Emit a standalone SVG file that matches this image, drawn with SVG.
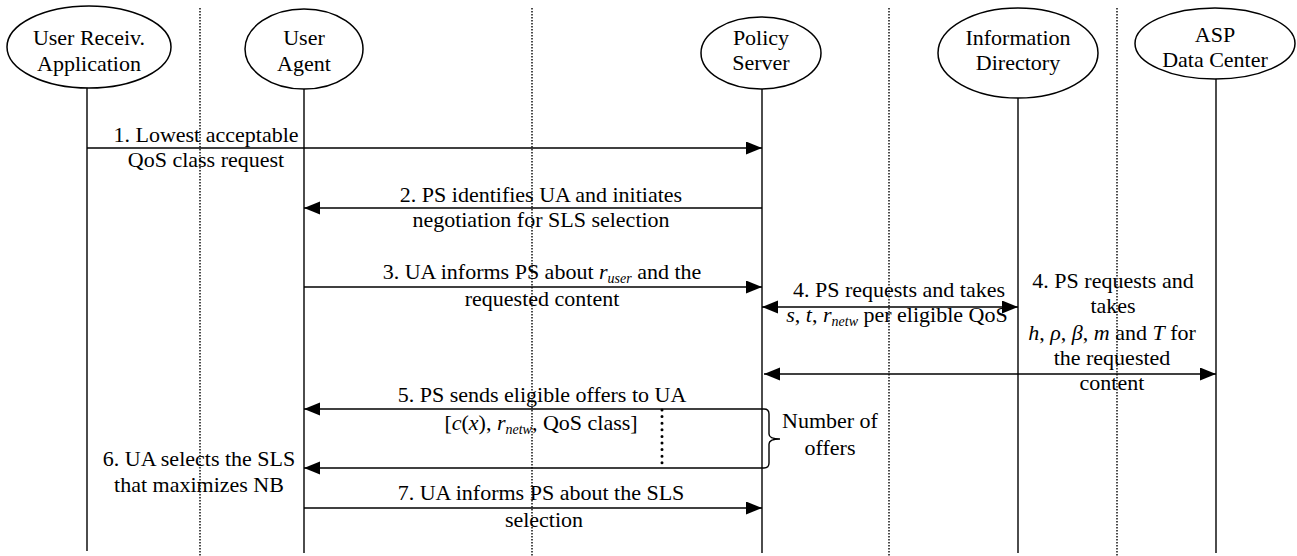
<svg xmlns="http://www.w3.org/2000/svg" width="1297" height="556" viewBox="0 0 1297 556">
<style>
text{font-family:'Liberation Serif','Times New Roman','DejaVu Serif',serif;font-size:22px;fill:#000;text-anchor:middle}
.it{font-style:italic}
.sub{font-style:italic;font-size:14px}
.node ellipse{fill:#fff;stroke:#000;stroke-width:1.5}
.life{stroke:#000;stroke-width:1.4;fill:none}
.dot{stroke:#000;stroke-width:1.4;stroke-dasharray:1.5 1.5;fill:none}
.msg{stroke:#000;stroke-width:1.4;fill:none}
</style>
<defs>
<marker id="ah" markerUnits="userSpaceOnUse" markerWidth="17" markerHeight="14" refX="16" refY="6.5" orient="auto-start-reverse">
<path d="M0,0 L16,6.5 L0,13 z" fill="#000"/>
</marker>
</defs>
<rect width="1297" height="556" fill="#fff"/>
<g id="separators">
<line class="dot" x1="200" y1="8" x2="200" y2="556"/>
<line class="dot" x1="532" y1="8" x2="532" y2="556"/>
<line class="dot" x1="889" y1="8" x2="889" y2="556"/>
<line class="dot" x1="1117" y1="8" x2="1117" y2="556"/>
</g>
<g id="lifelines">
<line class="life" x1="87" y1="88" x2="87" y2="551"/>
<line class="life" x1="304" y1="89" x2="304" y2="553"/>
<line class="life" x1="762" y1="89" x2="762" y2="553"/>
<line class="life" x1="1018" y1="98" x2="1018" y2="553"/>
<line class="life" x1="1216" y1="78" x2="1216" y2="553"/>
</g>
<g font-family="'Liberation Serif','Times New Roman','DejaVu Serif',serif">
<g id="node-ura" class="node">
<ellipse cx="89" cy="47" rx="82" ry="41"/>
<text x="89" y="45">User Receiv.</text>
<text x="89" y="71">Application</text>
</g>
<g id="node-ua" class="node">
<ellipse cx="304" cy="49" rx="59" ry="40"/>
<text x="304" y="45">User</text>
<text x="304" y="71">Agent</text>
</g>
<g id="node-ps" class="node">
<ellipse cx="761" cy="53" rx="60" ry="36"/>
<text x="761" y="45">Policy</text>
<text x="761" y="70">Server</text>
</g>
<g id="node-id" class="node">
<ellipse cx="1018" cy="53" rx="80" ry="45"/>
<text x="1018" y="45">Information</text>
<text x="1018" y="70">Directory</text>
</g>
<g id="node-asp" class="node">
<ellipse cx="1215" cy="43.5" rx="80" ry="35.5"/>
<text x="1215" y="42">ASP</text>
<text x="1215" y="67">Data Center</text>
</g>
</g>
<g id="connectors">
<line class="msg" x1="87" y1="148" x2="762" y2="148" marker-end="url(#ah)"/>
<line class="msg" x1="762" y1="208" x2="304" y2="208" marker-end="url(#ah)"/>
<line class="msg" x1="304" y1="287" x2="762" y2="287" marker-end="url(#ah)"/>
<line class="msg" x1="762" y1="307" x2="1018" y2="307" marker-start="url(#ah)" marker-end="url(#ah)"/>
<line class="msg" x1="764" y1="374" x2="1216" y2="374" marker-start="url(#ah)" marker-end="url(#ah)"/>
<line class="msg" x1="762" y1="409" x2="304" y2="409" marker-end="url(#ah)"/>
<line class="msg" x1="762" y1="468" x2="304" y2="468" marker-end="url(#ah)"/>
<line class="msg" x1="304" y1="508" x2="762" y2="508" marker-end="url(#ah)"/>
<path class="msg" d="M762,409 L764,409 Q769,409 769,414 L769,434 Q769,439 780,439 Q769,439 769,444 L769,463 Q769,468 764,468 L762,468"/>
<line x1="662" y1="410" x2="662" y2="468" stroke="#000" stroke-width="3" stroke-linecap="round" stroke-dasharray="0 6.6"/>
</g>
<g id="labels" font-family="'Liberation Serif','Times New Roman','DejaVu Serif',serif">
<text x="206" y="142">1. Lowest acceptable</text>
<text x="206" y="167">QoS class request</text>
<text x="541" y="202">2. PS identifies UA and initiates</text>
<text x="541" y="227">negotiation for SLS selection</text>
<text x="542" y="279">3. UA informs PS about <tspan class="it">r</tspan><tspan class="sub" dy="4">user</tspan><tspan dy="-4">  and the</tspan></text>
<text x="542" y="306">requested content</text>
<text x="899" y="297">4. PS requests and takes</text>
<text x="897" y="322"><tspan class="it">s</tspan>, <tspan class="it">t</tspan>, <tspan class="it">r</tspan><tspan class="sub" dy="4">netw</tspan><tspan dy="-4"> per eligible QoS</tspan></text>
<text x="1113" y="288">4. PS requests and</text>
<text x="1113" y="313">takes</text>
<text x="1112" y="340"><tspan class="it">h</tspan>, <tspan class="it">ρ</tspan>, <tspan class="it">β</tspan>, <tspan class="it">m</tspan> and <tspan class="it">T</tspan> for</text>
<text x="1112" y="365">the requested</text>
<text x="1112" y="390">content</text>
<text x="542" y="402">5. PS sends eligible offers to UA</text>
<text x="541" y="430">[<tspan class="it">c</tspan>(<tspan class="it">x</tspan>), <tspan class="it">r</tspan><tspan class="sub" dy="4">netw</tspan><tspan dy="-4">, QoS class]</tspan></text>
<text x="830" y="428">Number of</text>
<text x="830" y="455">offers</text>
<text x="199" y="466">6. UA selects the SLS</text>
<text x="199" y="492">that maximizes NB</text>
<text x="541" y="500">7. UA informs PS about the SLS</text>
<text x="544" y="527">selection</text>
</g>
</svg>
